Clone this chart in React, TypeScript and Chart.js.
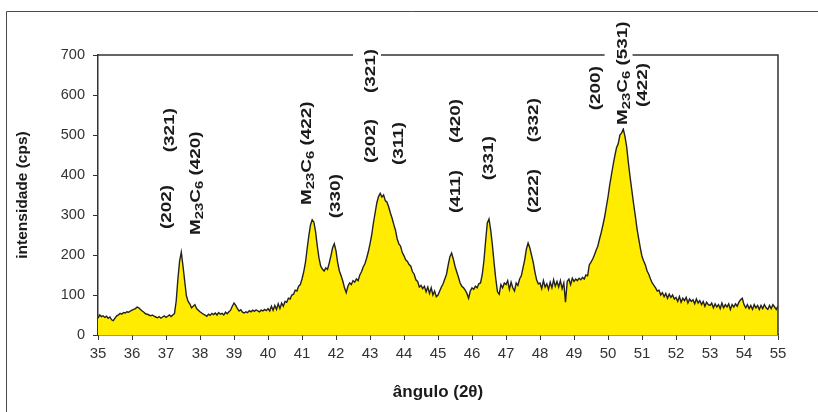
import { useEffect, useRef } from "react";
import { Chart, registerables } from "chart.js";

Chart.register(...registerables);

// ---- data ----
const ANGLE_START = 35;
const ANGLE_STEP = 0.05;

const INTENSITY: number[] = [
  // 35
  42, 50, 46, 48, 44, 47, 42, 45, 38, 36, 42, 48, 50, 54, 52, 56, 55, 58, 57, 60,
  // 36
  62, 64, 66, 70, 68, 64, 60, 57, 53, 52, 50, 48, 50, 47, 45, 43, 46, 42, 45, 48,
  // 37
  44, 47, 50, 46, 50, 54, 85, 140, 185, 207, 172, 135, 98, 84, 78, 68, 72, 76, 66, 62,
  // 38
  58, 55, 52, 50, 47, 52, 49, 54, 51, 55, 50, 56, 52, 54, 50, 57, 53, 58, 62, 72,
  // 39
  80, 74, 66, 60, 63, 57, 55, 58, 56, 61, 58, 62, 59, 63, 60, 58, 62, 60, 64, 61,
  // 40
  66, 60, 72, 62, 74, 64, 78, 66, 80, 72, 84, 82, 92, 90, 100, 102, 112, 110, 122, 126,
  // 41
  140, 158, 180, 215, 248, 275, 288, 282, 258, 222, 192, 172, 165, 160, 168, 164, 180, 198, 218, 228,
  // 42
  210, 180, 160, 148, 135, 118, 106, 122, 130, 126, 136, 132, 140, 136, 150, 158, 170, 178, 192, 208,
  // 43
  228, 250, 280, 305, 330, 346, 354, 345, 350, 336, 332, 320, 305, 292, 276, 262, 240, 228, 222, 206,
  // 44
  198, 188, 184, 176, 172, 158, 152, 138, 134, 120, 124, 116, 122, 108, 120, 104, 118, 100, 110, 96,
  // 45
  100, 110, 120, 128, 140, 152, 175, 196, 205, 190, 172, 158, 145, 130, 122, 118, 112, 104, 92, 110,
  // 46
  118, 114, 122, 118, 128, 130, 150, 185, 235, 280, 290, 262, 225, 180, 140, 108, 102, 126, 118, 130,
  // 47
  126, 136, 114, 132, 118, 110, 130, 124, 140, 148, 168, 188, 215, 230, 218, 200, 182, 158, 138, 128,
  // 48
  130, 116, 136, 120, 128, 114, 132, 118, 138, 122, 134, 120, 136, 116, 130, 82, 134, 140, 126, 142,
  // 49
  134, 140, 136, 142, 138, 144, 140, 150, 148, 175, 182, 190, 200, 212, 222, 240, 256, 275, 295, 320,
  // 50
  345, 375, 400, 425, 448, 468, 478, 500, 505, 515, 496, 470, 430, 395, 362, 330, 300, 268, 242, 218,
  // 51
  196, 185, 175, 160, 152, 140, 130, 124, 118, 110, 112, 100, 106, 96, 104, 92, 102, 94, 100, 90,
  // 52
  94, 84, 96, 82, 92, 86, 94, 80, 90, 84, 88, 78, 90, 80, 86, 76, 84, 72, 82, 76,
  // 53
  74, 80, 68, 78, 70, 76, 66, 80, 68, 76, 70, 78, 64, 76, 70, 78, 72, 82, 88, 92,
  // 54 - 55
  76, 68, 76, 66, 74, 64, 76, 68, 74, 64, 74, 66, 76, 68, 64, 74, 66, 76, 70, 64, 72,
];

const ANGLES: number[] = INTENSITY.map((_, i) => +(ANGLE_START + i * ANGLE_STEP).toFixed(2));

const X_MIN = 35;
const X_MAX = 55;
const X_STEP = 1;
const Y_MIN = 0;
const Y_MAX = 700;
const Y_STEP = 100;

const X_TITLE = "ângulo (2θ)";
const Y_TITLE = "intensidade (cps)";

// peak annotations: text, angle of its column, intensity where the text starts (lower end)
const PEAK_TEXTS = [
  "(202)", "(321)", "M_{23}C_{6} (420)",
  "M_{23}C_{6} (422)", "(330)",
  "(321)", "(202)", "(311)",
  "(420)", "(411)", "(331)",
  "(332)", "(222)",
  "(200)", "M_{23}C_{6} (531)", "(422)",
];
const PEAK_ANGLES = [
  36.99, 37.08, 37.85,
  41.13, 41.96,
  43.0, 43.0, 43.81,
  45.49, 45.49, 46.46,
  47.79, 47.79,
  49.61, 50.4, 50.99,
];
const PEAK_BASES = [
  265, 457, 250,
  325, 292,
  605, 430, 425,
  480, 305, 387,
  482, 305,
  562, 525, 570,
];
const PEAK_MASKED = [
  false, false, false,
  false, false,
  true, false, false,
  false, false, false,
  false, false,
  false, true, false,
];

// ---- drawing helpers ----
const FAMILY = '"Liberation Sans", Arial, sans-serif';
const LABEL_SIZE = 14;
const SUB_SIZE = 11;
const LABEL_STRETCH = 1.35;

type Run = { t: string; sub: boolean };
function parseRuns(s: string): Run[] {
  return s
    .split(/(_\{[^}]*\})/)
    .filter((p) => p.length > 0)
    .map((p) => (p.startsWith("_{") ? { t: p.slice(2, -1), sub: true } : { t: p, sub: false }));
}

function runsWidth(ctx: CanvasRenderingContext2D, runs: Run[]) {
  let w = 0;
  for (const r of runs) {
    ctx.font = `bold ${r.sub ? SUB_SIZE : LABEL_SIZE}px ${FAMILY}`;
    w += ctx.measureText(r.t).width;
  }
  return w;
}

const annotPlugin = {
  id: "annot",
  beforeDraw(chart: any) {
    const ctx: CanvasRenderingContext2D = chart.ctx;
    ctx.save();
    ctx.fillStyle = "#ffffff";
    ctx.fillRect(0, 0, chart.width, chart.height);
    ctx.strokeStyle = "#4a4a4a";
    ctx.lineWidth = 1;
    ctx.beginPath();
    ctx.moveTo(6.5, chart.height + 2);
    ctx.lineTo(6.5, 11.5);
    ctx.lineTo(chart.width + 2, 11.5);
    ctx.stroke();
    ctx.restore();
  },
  afterDatasetsDraw(chart: any) {
    const ctx: CanvasRenderingContext2D = chart.ctx;
    const a = chart.chartArea;
    const xs = chart.scales.x;
    const ys = chart.scales.y;
    ctx.save();
    // top and right edges of the plot frame
    ctx.strokeStyle = "#333333";
    ctx.lineWidth = 1.5;
    ctx.beginPath();
    ctx.moveTo(a.left, a.top);
    ctx.lineTo(a.right, a.top);
    ctx.lineTo(a.right, a.bottom);
    ctx.stroke();

    // masks
    PEAK_TEXTS.forEach((txt, i) => {
      if (!PEAK_MASKED[i]) return;
      const runs = parseRuns(txt);
      const w = runsWidth(ctx, runs) * LABEL_STRETCH;
      const px = xs.getPixelForValue(PEAK_ANGLES[i]);
      const py = ys.getPixelForValue(PEAK_BASES[i]);
      ctx.fillStyle = "#ffffff";
      ctx.fillRect(px - 17, py - w - 3, 28, w + 6);
    });

    // peak labels
    ctx.fillStyle = "#1a1a1a";
    PEAK_TEXTS.forEach((txt, i) => {
      const runs = parseRuns(txt);
      const px = xs.getPixelForValue(PEAK_ANGLES[i]);
      const py = ys.getPixelForValue(PEAK_BASES[i]);
      ctx.save();
      ctx.translate(px, py);
      ctx.rotate(-Math.PI / 2);
      ctx.scale(LABEL_STRETCH, 1);
      ctx.textBaseline = "alphabetic";
      ctx.textAlign = "left";
      let cx = 0;
      const base = LABEL_SIZE * 0.36;
      for (const r of runs) {
        ctx.font = `bold ${r.sub ? SUB_SIZE : LABEL_SIZE}px ${FAMILY}`;
        ctx.fillText(r.t, cx, r.sub ? base + 3 : base);
        cx += ctx.measureText(r.t).width;
      }
      ctx.restore();
    });
    ctx.restore();
  },
  afterDraw(chart: any) {
    const ctx: CanvasRenderingContext2D = chart.ctx;
    const a = chart.chartArea;
    ctx.save();
    ctx.fillStyle = "#1a1a1a";
    ctx.textAlign = "center";
    ctx.textBaseline = "middle";
    ctx.font = `bold 17px ${FAMILY}`;
    ctx.fillText(X_TITLE, (a.left + a.right) / 2, 392);
    ctx.translate(23, (a.top + a.bottom) / 2);
    ctx.rotate(-Math.PI / 2);
    ctx.font = `bold 15.5px ${FAMILY}`;
    ctx.fillText(Y_TITLE, 0, 0);
    ctx.restore();
  },
};

export default function App() {
  const ref = useRef<HTMLCanvasElement>(null);
  useEffect(() => {
    const canvas = ref.current;
    if (!canvas) return;
    const points = ANGLES.map((x, i) => ({ x, y: INTENSITY[i] }));
    const chart = new Chart(canvas, {
      type: "line",
      data: {
        datasets: [
          {
            data: points,
            fill: "origin",
            backgroundColor: "#FFEC00",
            borderColor: "#222222",
            borderWidth: 1.4,
            pointRadius: 0,
            tension: 0,
          },
        ],
      },
      options: {
        animation: false,
        responsive: false,
        events: [],
        layout: { padding: { left: 0, right: 40, top: 55, bottom: 0 } },
        plugins: { legend: { display: false }, tooltip: { enabled: false }, title: { display: false } },
        scales: {
          x: {
            type: "linear",
            min: X_MIN,
            max: X_MAX,
            ticks: {
              stepSize: X_STEP,
              autoSkip: false,
              maxRotation: 0,
              padding: 5,
              color: "#333333",
              font: { family: FAMILY, size: 15 },
            },
            grid: { drawOnChartArea: false, drawTicks: true, tickLength: 5, color: "#333333", lineWidth: 1 },
            border: { display: true, color: "#333333", width: 1.5 },
            afterFit: (s: any) => {
              s.height = 77;
            },
          },
          y: {
            type: "linear",
            min: Y_MIN,
            max: Y_MAX,
            ticks: {
              stepSize: Y_STEP,
              padding: 8,
              color: "#333333",
              font: { family: FAMILY, size: 14.5 },
            },
            grid: { drawOnChartArea: false, drawTicks: true, tickLength: 5, color: "#333333", lineWidth: 1 },
            border: { display: true, color: "#333333", width: 1.5 },
            afterFit: (s: any) => {
              s.width = 98;
            },
          },
        },
      },
      plugins: [annotPlugin],
    });
    return () => chart.destroy();
  }, []);

  return (
    <div style={{ position: "absolute", left: 0, top: 0, width: 818, height: 412, background: "#fff" }}>
      <canvas ref={ref} width={818} height={412} style={{ display: "block", width: 818, height: 412 }} />
    </div>
  );
}
